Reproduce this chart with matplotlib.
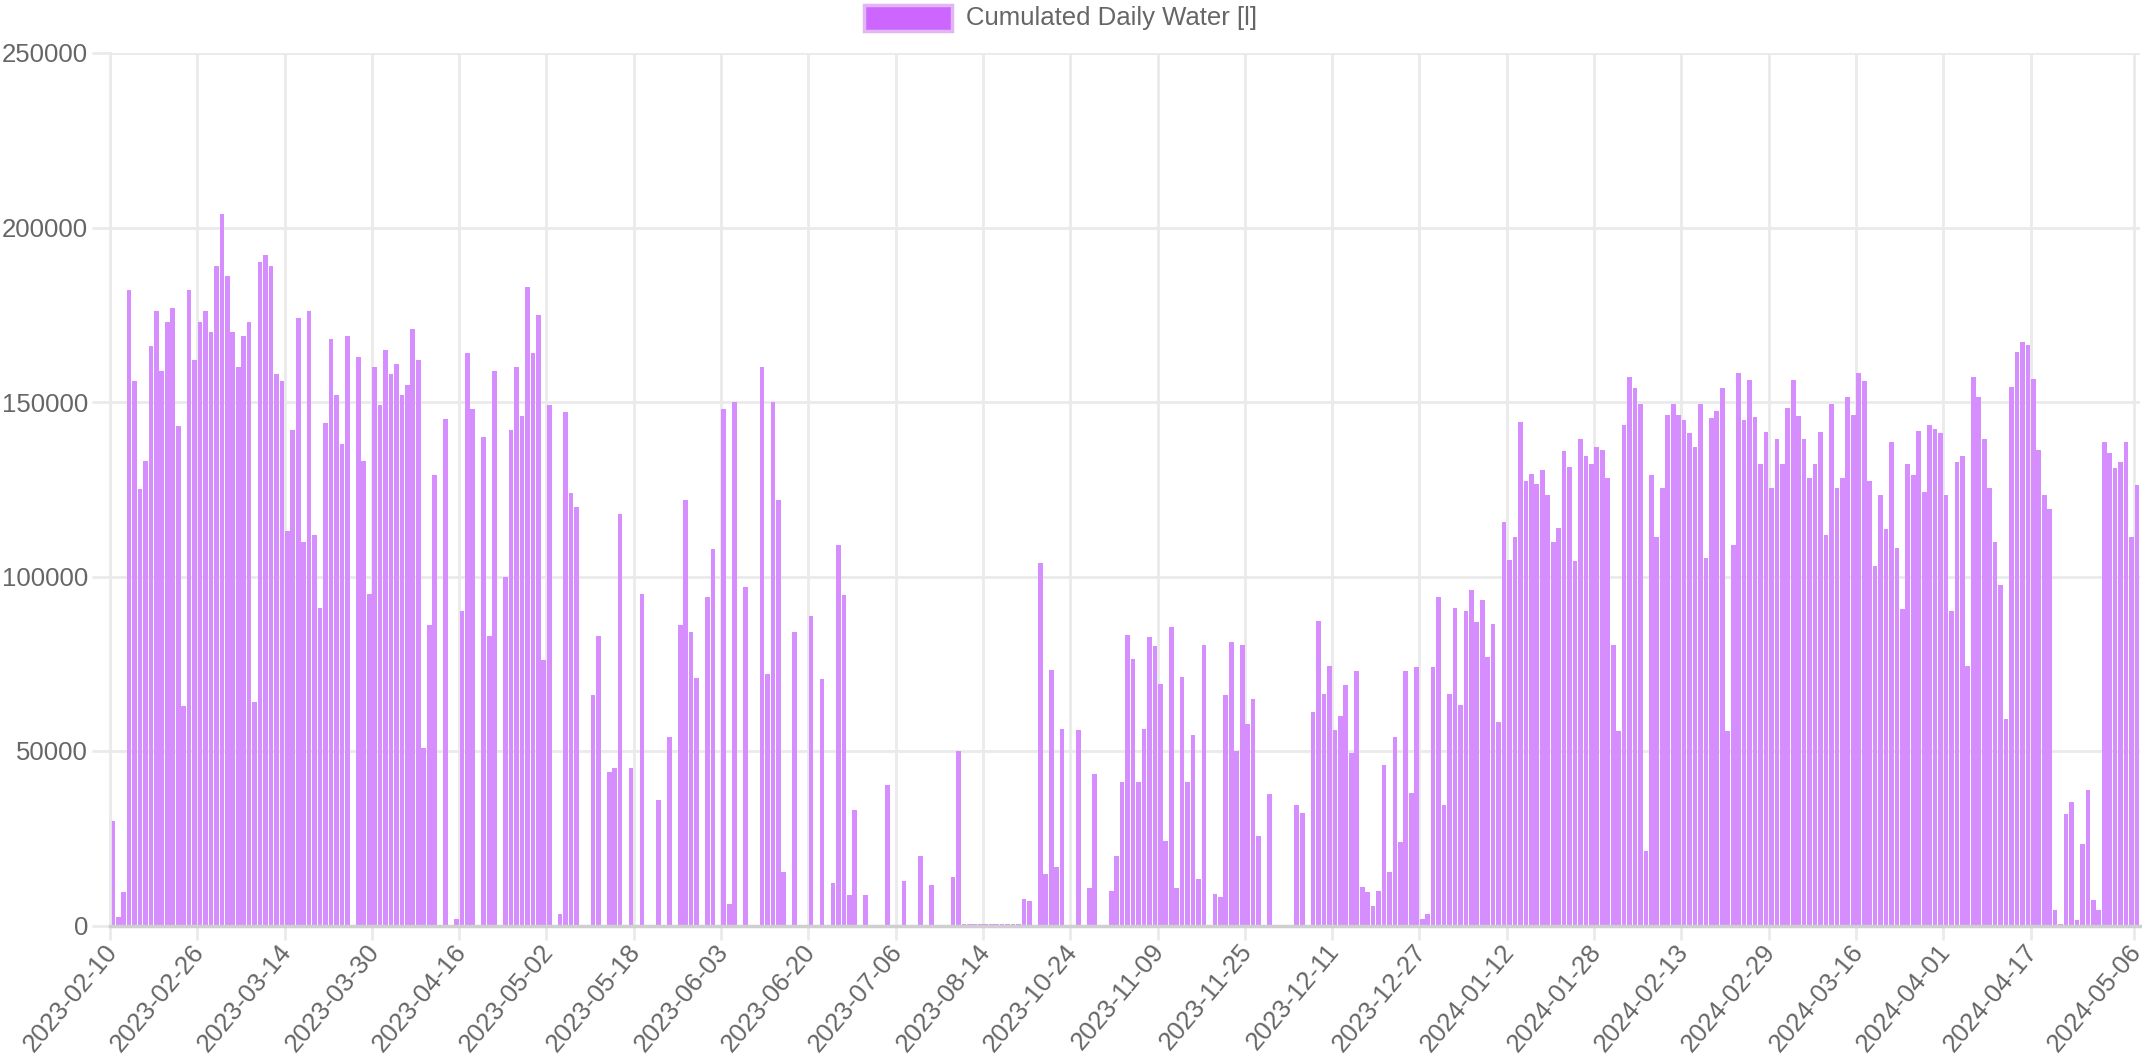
import numpy as np
import matplotlib
matplotlib.use("Agg")
import matplotlib.pyplot as plt
from matplotlib.patches import Rectangle

# ---------------- data ----------------
daily_water = [
    30000, 2500, 9700, 182000, 156000, 125000, 133000, 166000, 176000, 159000,
    173000, 177000, 143000, 63000, 182000, 162000, 173000, 176000, 170000, 189000,
    204000, 186000, 170000, 160000, 169000, 173000, 64000, 190000, 192000, 189000,
    158000, 156000, 113000, 142000, 174000, 110000, 176000, 112000, 91000, 144000,
    168000, 152000, 138000, 169000, 0, 163000, 133000, 95000, 160000, 149000,
    165000, 158000, 161000, 152000, 155000, 171000, 162000, 51000, 86000, 129000,
    0, 145000, 0, 2000, 90000, 164000, 148000, 0, 140000, 83000,
    159000, 0, 100000, 142000, 160000, 146000, 183000, 164000, 175000, 76000,
    149000, 0, 3300, 147000, 124000, 120000, 0, 0, 66000, 83000,
    0, 44000, 45000, 118000, 0, 45000, 0, 95000, 0, 0,
    36000, 0, 54000, 0, 86000, 122000, 84000, 71000, 0, 94000,
    108000, 0, 148000, 6300, 150000, 0, 97000, 0, 0, 160000,
    72000, 150000, 122000, 15300, 0, 84000, 0, 0, 88600, 0,
    70600, 0, 12300, 109000, 94600, 8700, 33000, 0, 8700, 0,
    0, 0, 40300, 0, 0, 12700, 0, 0, 20000, 0,
    11700, 0, 0, 0, 14000, 50000, 400, 400, 400, 400,
    400, 400, 400, 400, 400, 400, 400, 7500, 7000, 0,
    104000, 14700, 73300, 16700, 56300, 0, 0, 55900, 0, 10700,
    43300, 0, 0, 10000, 20000, 41000, 83300, 76300, 41000, 56300,
    82700, 80000, 69300, 24300, 85600, 10700, 71300, 41000, 54700, 13300,
    80300, 0, 9000, 8300, 66000, 81300, 50000, 80300, 57600, 65000,
    25600, 0, 37600, 0, 0, 0, 0, 34400, 32300, 0,
    61300, 87300, 66400, 74400, 56000, 60000, 69000, 49300, 73000, 10900,
    9600, 5600, 10000, 46000, 15300, 54000, 24000, 73000, 38000, 74000,
    2000, 3300, 74000, 94000, 34400, 66400, 91000, 63300, 90000, 96000,
    87000, 93300, 77000, 86400, 58400, 115700, 104600, 111300, 144200, 127300,
    129300, 126400, 130400, 123300, 110000, 114000, 136000, 131300, 104300, 139300,
    134400, 132300, 137000, 136300, 128200, 80300, 55700, 143300, 157300, 154000,
    149300, 21300, 129000, 111300, 125300, 146400, 149300, 146400, 144700, 141000,
    137000, 149300, 105300, 145300, 147300, 154000, 55700, 109000, 158400, 144700,
    156300, 145700, 132300, 141300, 125300, 139300, 132300, 148300, 156300, 146000,
    139300, 128200, 132300, 141300, 112000, 149300, 125300, 128200, 151300, 146400,
    158400, 156000, 127300, 102900, 123300, 113700, 138400, 108300, 90700, 132300,
    129000, 141600, 124200, 143300, 142400, 141000, 123300, 90000, 132700, 134400,
    74400, 157300, 151300, 139300, 125300, 110000, 97600, 59300, 154300, 164300,
    167300, 166400, 156700, 136300, 123300, 119300, 4300, 500, 32000, 35300,
    1600, 23300, 38900, 7300, 4300, 138400, 135300, 131000, 132700, 138400,
    111300, 126300,
]

tick_labels = [
    "2023-02-10", "2023-02-26", "2023-03-14", "2023-03-30", "2023-04-16",
    "2023-05-02", "2023-05-18", "2023-06-03", "2023-06-20", "2023-07-06",
    "2023-08-14", "2023-10-24", "2023-11-09", "2023-11-25", "2023-12-11",
    "2023-12-27", "2024-01-12", "2024-01-28", "2024-02-13", "2024-02-29",
    "2024-03-16", "2024-04-01", "2024-04-17", "2024-05-06",
]
label_step = 16
y_ticks = [0, 50000, 100000, 150000, 200000, 250000]
legend_label = "Cumulated Daily Water [l]"

# ---------------- figure ----------------
W, H, DPI = 2142, 1059, 100
FONT = "Liberation Sans"
TXT = "#666666"
GRID = "#EAEAEA"
PX = 72.0 / DPI  # points per pixel

n = len(daily_water)
x = np.arange(n)
tick_pos = [i * label_step for i in range(len(tick_labels) - 1)] + [n - 1]

fig = plt.figure(figsize=(W / DPI, H / DPI), dpi=DPI)
left, right, top, bottom = 110, 2139.7, 53, 925.5
ax = fig.add_axes([left / W, 1 - bottom / H, (right - left) / W, (bottom - top) / H])

ax.bar(x, daily_water, width=0.86, color="#D68EFF", edgecolor="none", zorder=2)

ax.set_xlim(-0.5, n - 0.5)
ax.set_ylim(0, 250000)

# y axis
ax.set_yticks(y_ticks)
ax.set_yticklabels([str(v) for v in y_ticks], fontsize=18.5, color=TXT, family=FONT)
ax.tick_params(axis="y", length=18 * PX, width=2, color=GRID, pad=4 * PX)
ax.grid(axis="y", which="major", color=GRID, lw=2, zorder=0)

# x axis: labels at category centers, grid lines between categories
ax.set_xticks(tick_pos)
ax.set_xticklabels(tick_labels, rotation=50, ha="right", va="center",
                   rotation_mode="anchor", fontsize=18.5, color=TXT, family=FONT)
ax.tick_params(axis="x", which="major", length=0, pad=22 * PX)
ax.set_xticks(np.array(tick_pos) - 0.5, minor=True)
ax.tick_params(axis="x", which="minor", length=14 * PX, width=2, color=GRID)
ax.grid(axis="x", which="minor", color=GRID, lw=2, zorder=0)
ax.set_axisbelow(True)

for s in ["top", "right"]:
    ax.spines[s].set_visible(False)
ax.spines["left"].set_color(GRID)
ax.spines["left"].set_linewidth(2)
ax.spines["bottom"].set_color("#CFCFCF")
ax.spines["bottom"].set_linewidth(2.5)

# legend (Chart.js style, centered on top)
fig.patches.append(Rectangle((864 / W, 1 - 31 / H), 88 / W, 26 / H,
                             transform=fig.transFigure, facecolor="#CC66FF",
                             edgecolor="#E2B5F4", lw=2.5))
fig.text(966 / W, 1 - 18 / H, legend_label, ha="left", va="center",
         fontsize=18.5, color=TXT, family=FONT)

fig.savefig("out.png", dpi=DPI, facecolor="white")
